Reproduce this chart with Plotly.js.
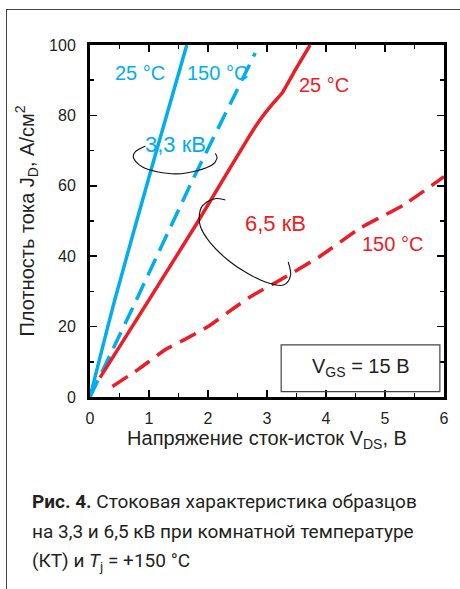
<!DOCTYPE html>
<html>
<head>
<meta charset="utf-8">
<script src="https://cdn.plot.ly/plotly-3.0.1.min.js"></script>
<style>
  html, body { margin: 0; padding: 0; background: #fff; }
  #wrap { position: relative; width: 460px; height: 589px; overflow: hidden; }
  #chart { position: absolute; left: 0; top: 0; width: 460px; height: 589px; }
  #frame { position: absolute; left: 6px; top: 9px; width: 470px; height: 600px;
           border-top: 1.5px solid #444; border-left: 1.5px solid #444; pointer-events: none; }
</style>
</head>
<body>
<div id="wrap">
  <div id="chart"></div>
  <div id="frame"></div>
</div>
<script>
// ---- data ----
const blue25_x  = [0, 0.42, 1.05, 1.64];
const blue25_y  = [0, 27.6, 65.4, 100];
const blue150_x = [0, 0.4, 0.77, 1.75, 2.41, 2.8];
const blue150_y = [0, 14, 27, 62, 84.4, 97.7];
const red25_x   = [0.17, 1.0, 1.81, 2.66, 2.88, 3.08, 3.25, 3.48, 3.73];
const red25_y   = [5.5, 27.6, 49.3, 73, 78.7, 83, 86.2, 92.9, 100];
const red150_x  = [0.38, 0.83, 1.28, 1.6, 2.0, 2.46, 2.72, 3.22, 3.9, 4.58, 5.31, 6];
const red150_y  = [3, 8, 13.5, 16.3, 20, 25.5, 28.5, 33.2, 40, 48, 54.5, 62.6];

const xTickVals = [0, 1, 2, 3, 4, 5, 6];
const yTickVals = [0, 20, 40, 60, 80, 100];

const BLUE = '#00AEEF';
const RED  = '#EE1C25';
const INK  = '#231F20';
const FONT = 'Liberation Sans, Arial, sans-serif';
const CAPFONT = 'Roboto, sans-serif';

// smooth bracket loops (decorations) as bezier paths through points
function smoothPath(pts) {
  let d = 'M ' + pts[0][0] + ',' + pts[0][1];
  for (let i = 0; i < pts.length - 1; i++) {
    const p0 = pts[Math.max(i - 1, 0)], p1 = pts[i], p2 = pts[i + 1], p3 = pts[Math.min(i + 2, pts.length - 1)];
    const c1 = [p1[0] + (p2[0] - p0[0]) / 6, p1[1] + (p2[1] - p0[1]) / 6];
    const c2 = [p2[0] - (p3[0] - p1[0]) / 6, p2[1] - (p3[1] - p1[1]) / 6];
    d += ' C ' + c1[0] + ',' + c1[1] + ' ' + c2[0] + ',' + c2[1] + ' ' + p2[0] + ',' + p2[1];
  }
  return d;
}
const loop33 = [[0.939,71.3],[0.77,69.7],[0.741,67.8],[0.883,65.4],[1.137,64.0],[1.475,63.4],[1.814,64.3],[2.068,65.9],[2.152,67.8],[2.124,69.2]];
const loop65 = [[2.293,56.0],[2.14,56.4],[1.98,55.4],[1.87,53.2],[1.87,48.5],[2.04,43.8],[2.33,39.0],[2.66,35.2],[2.998,32.5],[3.28,31.8],[3.40,34.6],[3.36,38.4]];

const dash = '18px,9px';
const traces = [
  {x: blue25_x,  y: blue25_y,  mode: 'lines', line: {color: BLUE, width: 3.5, shape: 'spline', smoothing: 0.6}, hoverinfo: 'skip'},
  {x: blue150_x, y: blue150_y, mode: 'lines', line: {color: BLUE, width: 3.5, dash: dash, shape: 'spline', smoothing: 0.6}, hoverinfo: 'skip'},
  {x: red25_x,   y: red25_y,   mode: 'lines', line: {color: RED, width: 3.5, shape: 'spline', smoothing: 0.3}, hoverinfo: 'skip'},
  {x: red150_x,  y: red150_y,  mode: 'lines', line: {color: RED, width: 3.5, dash: dash, shape: 'spline', smoothing: 0.4}, hoverinfo: 'skip'}
];

const axisCommon = {
  showgrid: false, zeroline: false,
  showline: true, linecolor: '#000', linewidth: 3, mirror: 'allticks',
  ticks: 'inside', ticklen: 7, tickwidth: 1.5, tickcolor: '#000',
  tickfont: {family: FONT, size: 16, color: INK},
  fixedrange: true
};

const layout = {
  width: 460, height: 589,
  margin: {l: 89.5, r: 16, t: 45, b: 192},
  paper_bgcolor: 'rgba(0,0,0,0)', plot_bgcolor: '#fff',
  font: {family: FONT},
  showlegend: false,
  xaxis: Object.assign({}, axisCommon, {
    range: [0, 6], tickvals: xTickVals, ticklabelstandoff: 5,
    minor: {dtick: 0.5, ticklen: 4, tickwidth: 1.5, tickcolor: '#000', ticks: 'inside'},
    title: {text: 'Напряжение сток-исток V<sub>DS</sub>, В', font: {family: FONT, size: 20, color: INK}, standoff: 4}
  }),
  yaxis: Object.assign({}, axisCommon, {
    range: [0, 100], tickvals: yTickVals, ticklabelstandoff: 8,
    minor: {dtick: 10, ticklen: 4, tickwidth: 1.5, tickcolor: '#000', ticks: 'inside'},
    title: {text: 'Плотность тока J<sub>D</sub>, А/см<sup>2</sup>', font: {family: FONT, size: 20, color: INK}, standoff: 10}
  }),
  shapes: [
    {type: 'rect', xref: 'x', yref: 'y', x0: 3.24, x1: 5.93, y0: 1.5, y1: 14.8,
     line: {color: '#444', width: 1.2}, fillcolor: 'rgba(255,255,255,0)', layer: 'above'},
    {type: 'path', xref: 'x', yref: 'y', path: smoothPath(loop33), line: {color: '#111', width: 1.1}},
    {type: 'path', xref: 'x', yref: 'y', path: smoothPath(loop65), line: {color: '#111', width: 1.1}}
  ],
  annotations: [
    {x: 0.855, y: 92.0, text: '25 °C', font: {family: FONT, size: 20, color: BLUE}},
    {x: 2.16, y: 92.0, text: '150 °C', font: {family: FONT, size: 20, color: BLUE}},
    {x: 3.97, y: 88.6, text: '25 °C', font: {family: FONT, size: 20, color: RED}},
    {x: 1.455, y: 71.6, text: '3,3 кВ', font: {family: FONT, size: 22, color: BLUE}},
    {x: 3.14, y: 49.4, text: '6,5 кВ', font: {family: FONT, size: 22, color: RED}},
    {x: 5.12, y: 43.5, text: '150 °C', font: {family: FONT, size: 20, color: RED}},
    {x: 4.585, y: 8.3, text: 'V<sub>GS</sub> = 15 В', font: {family: FONT, size: 20, color: INK}},
    {xref: 'paper', yref: 'paper', x: -0.17, y: -0.297, xanchor: 'left', yanchor: 'middle', align: 'left',
     text: '<b>Рис. 4.</b> Стоковая характеристика образцов', font: {family: CAPFONT, size: 19, color: INK}},
    {xref: 'paper', yref: 'paper', x: -0.17, y: -0.3827, xanchor: 'left', yanchor: 'middle', align: 'left',
     text: 'на 3,3 и 6,5 кВ при комнатной температуре', font: {family: CAPFONT, size: 19, color: INK}},
    {xref: 'paper', yref: 'paper', x: -0.17, y: -0.468, xanchor: 'left', yanchor: 'middle', align: 'left',
     text: '(КТ) и <i>T</i><sub>j</sub> = +150 °C', font: {family: CAPFONT, size: 19, color: INK}}
  ].map(a => Object.assign({showarrow: false}, a))
};

Plotly.newPlot('chart', traces, layout, {staticPlot: true, displayModeBar: false});
</script>
</body>
</html>
